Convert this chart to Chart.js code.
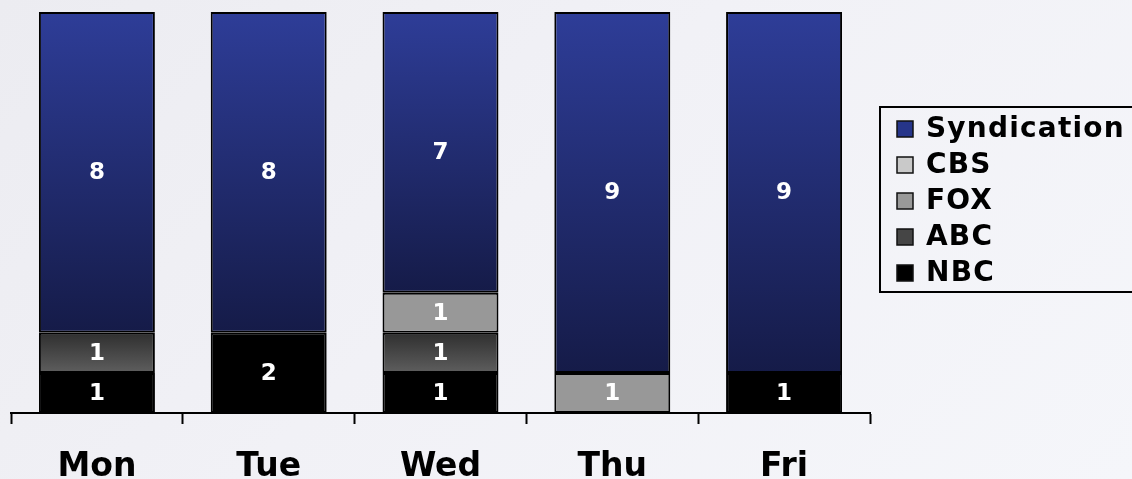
<!DOCTYPE html>
<html>
<head>
<meta charset="utf-8">
<script src="https://cdn.jsdelivr.net/npm/chart.js@4/dist/chart.umd.min.js"></script>
<style>
  html, body { margin: 0; padding: 0; }
  body {
    width: 1132px;
    height: 479px;
    overflow: hidden;
    background: linear-gradient(135deg, #ececf1 0%, #f1f1f6 45%, #f5f6fa 100%);
  }
  canvas { display: block; }
</style>
</head>
<body>
<canvas id="tvChart" width="1132" height="479"></canvas>
<script>
/* ===============================
   DATA
================================ */
const days = ["Mon", "Tue", "Wed", "Thu", "Fri"];

const nbc = [1, 2, 1, null, 1];
const abc = [1, null, 1, null, null];
const fox = [null, null, 1, 1, null];
const cbs = [null, null, null, null, null];
const syndication = [8, 8, 7, 9, 9];

const FONT = "'DejaVu Sans', Verdana, sans-serif";

/* ===============================
   SEGMENT GRADIENTS
================================ */
function segmentFill(topColor, bottomColor, flat) {
  return function (ctx) {
    const chart = ctx.chart;
    if (!chart.chartArea || ctx.type !== "data") return flat;
    const y = chart.scales.y;
    let start = 0;
    for (let i = 0; i < ctx.datasetIndex; i++) {
      start += chart.data.datasets[i].data[ctx.dataIndex] || 0;
    }
    const value = ctx.raw || 0;
    const yTop = y.getPixelForValue(start + value);
    const yBottom = y.getPixelForValue(start);
    if (!isFinite(yTop) || !isFinite(yBottom) || yTop === yBottom) return flat;
    const g = chart.ctx.createLinearGradient(0, yTop, 0, yBottom);
    g.addColorStop(0, topColor);
    g.addColorStop(1, bottomColor);
    return g;
  };
}

const datasets = [
  { label: "NBC", data: nbc, backgroundColor: "#000000", swatch: "#000000" },
  { label: "ABC", data: abc, backgroundColor: segmentFill("#2f2f2f", "#5e5e5e", "#464646"), swatch: "#454545" },
  { label: "FOX", data: fox, backgroundColor: "#989898", swatch: "#999999" },
  { label: "CBS", data: cbs, backgroundColor: "#c8c8c8", swatch: "#c9c9c9" },
  { label: "Syndication", data: syndication, backgroundColor: segmentFill("#2e3d98", "#151b48", "#22307a"), swatch: "#26358a" }
].map(d => Object.assign(d, {
  borderColor: "#000000",
  borderWidth: 2,
  borderSkipped: false,
  barPercentage: 0.675,
  categoryPercentage: 1
}));

/* ===============================
   PLUGINS
================================ */
const valueLabels = {
  id: "valueLabels",
  afterDatasetsDraw(chart) {
    const ctx = chart.ctx;
    ctx.save();
    ctx.fillStyle = "#ffffff";
    ctx.font = "bold 23px " + FONT;
    ctx.textAlign = "center";
    ctx.textBaseline = "middle";
    chart.data.datasets.forEach((ds, di) => {
      const meta = chart.getDatasetMeta(di);
      meta.data.forEach((bar, i) => {
        const v = ds.data[i];
        if (!v) return;
        ctx.fillText(String(v), bar.x, (bar.y + bar.base) / 2 + 1);
      });
    });
    ctx.restore();
  }
};

const boxLegend = {
  id: "boxLegend",
  afterDraw(chart) {
    const ctx = chart.ctx;
    const left = 880, top = 107, height = 185;
    ctx.save();
    ctx.strokeStyle = "#000000";
    ctx.lineWidth = 2;
    ctx.strokeRect(left, top, 300, height);

    const rows = chart.data.datasets.slice().reverse();
    ctx.font = "bold 28px " + FONT;
    ctx.letterSpacing = "1.2px";
    ctx.textBaseline = "middle";
    ctx.textAlign = "left";
    rows.forEach((ds, i) => {
      const cy = 129 + i * 36;
      ctx.fillStyle = ds.swatch;
      ctx.fillRect(897, cy - 8, 16, 16);
      ctx.lineWidth = 1.5;
      ctx.strokeStyle = "#111111";
      ctx.strokeRect(897, cy - 8, 16, 16);
      ctx.fillStyle = "#000000";
      ctx.fillText(ds.label, 926, cy + 1);
    });
    ctx.restore();
  }
};

/* ===============================
   CHART
================================ */
new Chart(document.getElementById("tvChart"), {
  type: "bar",
  data: { labels: days, datasets: datasets },
  options: {
    responsive: false,
    animation: false,
    layout: { padding: { top: 12, left: 11, right: 262, bottom: 0 } },
    plugins: {
      legend: { display: false },
      tooltip: { enabled: false }
    },
    scales: {
      x: {
        stacked: true,
        afterFit(scale) { scale.height = 66; },
        border: { display: true, color: "#000000", width: 2 },
        grid: {
          offset: true,
          drawOnChartArea: false,
          drawTicks: true,
          tickLength: 11,
          tickWidth: 2,
          color: "#000000"
        },
        ticks: {
          color: "#000000",
          padding: 24,
          font: { family: FONT, size: 33, weight: "bold" }
        }
      },
      y: {
        stacked: true,
        display: false,
        min: 0,
        max: 10
      }
    }
  },
  plugins: [valueLabels, boxLegend]
});
</script>
</body>
</html>
